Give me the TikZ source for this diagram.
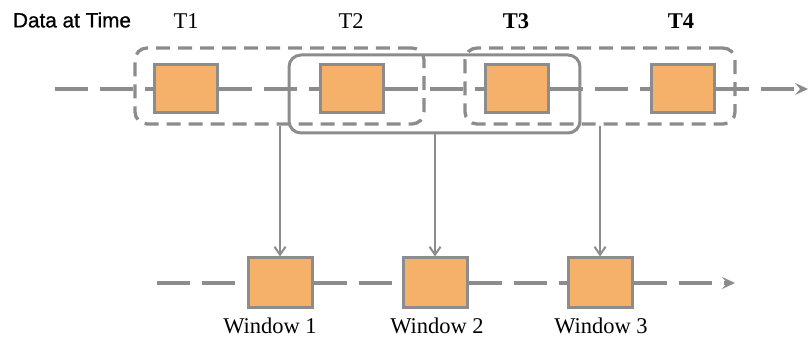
\documentclass[tikz,border=0pt]{standalone}
\usepackage{fontspec}
\setmainfont{Liberation Serif}
\newfontfamily\labelsans[FakeBold=0.8]{Liberation Sans}
\usepackage{tikz}
\usetikzlibrary{arrows.meta}

\definecolor{boxfill}{HTML}{F5B06A}
\definecolor{linegray}{HTML}{8C8C8C}

\begin{document}
\begin{tikzpicture}[scale=0.1]
	\tikzstyle{every node}+=[inner sep=0pt]
	\tikzstyle{databox}=[draw=linegray, fill=boxfill, line width=0.3mm, minimum width=6.3mm, minimum height=4.8mm]
	\tikzstyle{winbox}=[draw=linegray, line width=0.3mm, rounded corners=1.2mm]
	\tikzstyle{dashwin}=[winbox, line width=0.33mm, dash pattern=on 1.4mm off 0.8mm]
	\tikzstyle{timeline}=[draw=linegray, line width=0.4mm, dash pattern=on 3.3mm off 1.2mm]
	\tikzstyle{pick}=[draw=linegray, line width=0.2mm, -{Straight Barb[length=0.8mm,width=1.1mm]}]
	\tikzstyle{lbl}=[font=\fontsize{6.4}{7}\selectfont]
	\useasboundingbox (0,0) rectangle (81,-34);
	% labels
	\node[font=\labelsans\fontsize{5.9}{7}\selectfont] (head) at (7.2,-2.0) {Data at Time};
	\node[lbl] (t1) at (18.6,-2.1) {T1};
	\node[lbl] (t2) at (35.1,-2.1) {T2};
	\node[lbl, font=\bfseries\fontsize{6.4}{7}\selectfont] (t3) at (51.6,-2.1) {T3};
	\node[lbl, font=\bfseries\fontsize{6.4}{7}\selectfont] (t4) at (68.1,-2.1) {T4};
	% windows
	\node[dashwin, minimum width=28.9mm, minimum height=7.6mm] (winA) at (27.95,-8.6) {};
	\node[winbox, minimum width=29.1mm, minimum height=7.8mm] (winB) at (43.45,-9.4) {};
	\node[dashwin, minimum width=27.0mm, minimum height=7.6mm] (winC) at (60.0,-8.6) {};
	% data
	\node[databox] (d1) at (18.6,-8.9) {};
	\node[databox] (d2) at (35.15,-8.9) {};
	\node[databox] (d3) at (51.7,-8.9) {};
	\node[databox] (d4) at (68.25,-8.9) {};
	\coordinate (s1) at (5.5,-8.9);
	\coordinate (e1) at (80.8,-8.9);
	\draw[timeline] (s1) -- (d1.west);
	\draw[timeline] (d1.east) -- (d2.west);
	\draw[timeline] (d2.east) -- (d3.west);
	\draw[timeline] (d3.east) -- (d4.west);
	\draw[timeline, -{Stealth[length=1.3mm,width=1.2mm,inset=0.5mm]}] (d4.east) -- (e1);
	% windowed data
	\node[databox, minimum width=6.4mm, minimum height=5.0mm] (w1) at (28.0,-28.3) {};
	\node[databox, minimum width=6.4mm, minimum height=5.0mm] (w2) at (43.5,-28.3) {};
	\node[databox, minimum width=6.4mm, minimum height=5.0mm] (w3) at (60.0,-28.3) {};
	\coordinate (s2) at (15.7,-28.3);
	\coordinate (e2) at (73.5,-28.3);
	\draw[timeline] (s2) -- (w1.west);
	\draw[timeline] (w1.east) -- (w2.west);
	\draw[timeline] (w2.east) -- (w3.west);
	\draw[timeline, -{Stealth[length=1.3mm,width=1.2mm,inset=0.5mm]}] (w3.east) -- (e2);
	\node[lbl] (l1) at (27.0,-32.6) {Window 1};
	\node[lbl] (l2) at (43.7,-32.6) {Window 2};
	\node[lbl] (l3) at (60.1,-32.6) {Window 3};
	% picks
	\draw[pick] (w1.north |- winA.south) -- (w1.north);
	\draw[pick] (w2.north |- winB.south) -- (w2.north);
	\draw[pick] (w3.north |- winC.south) -- (w3.north);
\end{tikzpicture}
\end{document}
